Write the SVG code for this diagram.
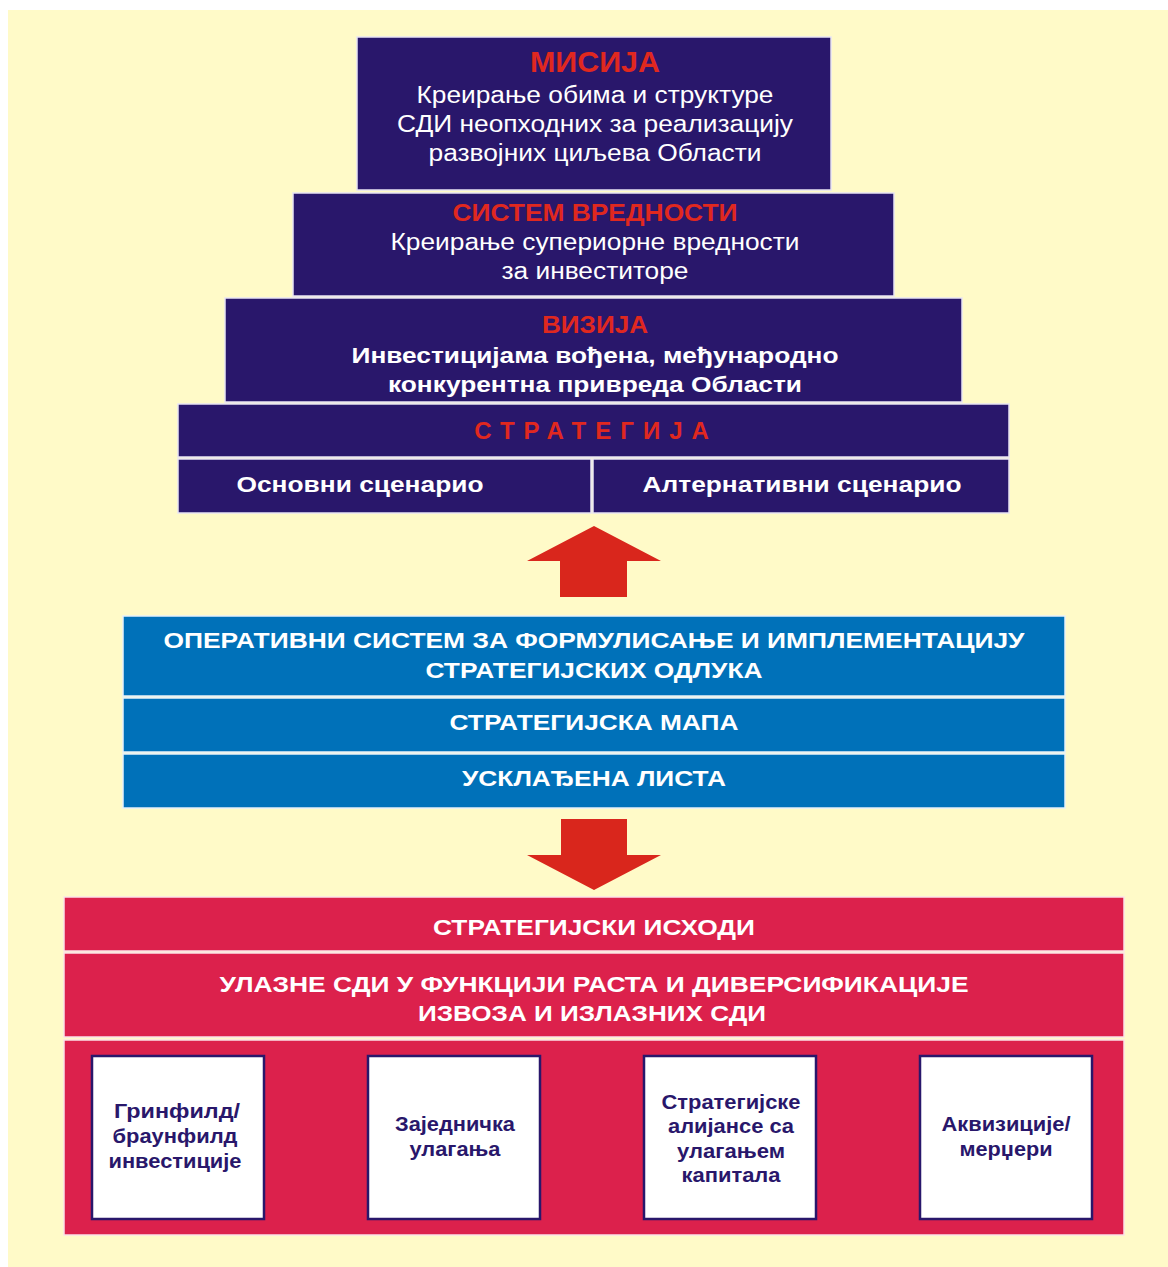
<svg xmlns="http://www.w3.org/2000/svg" width="1168" height="1267" viewBox="0 0 1168 1267">
  <style>
    .navy { fill: #29176b; stroke: #e8e4f4; stroke-width: 1.5; }
    .blue { fill: #0071b9; stroke: #e6f1fa; stroke-width: 1.5; }
    .crim { fill: #dc214c; stroke: #fbe2e8; stroke-width: 1.5; }
    .card { fill: #ffffff; stroke: #29176b; stroke-width: 2.5; }
    .arrow { fill: #d9261c; }
    text { font-family: "Liberation Sans", Arial, sans-serif; text-anchor: middle; }
    .head { fill: #e0281f; font-weight: bold; }
    .body { fill: #ffffff; font-size: 23px; }
    .bold { fill: #ffffff; font-size: 22.5px; font-weight: bold; }
    .cardtxt { fill: #29176b; font-size: 19.5px; font-weight: bold; }
  </style>

  <!-- page -->
  <rect x="0" y="0" width="1168" height="1267" fill="#ffffff"/>
  <rect x="8" y="10" width="1160" height="1257" fill="#fffac8"/>

  <!-- pyramid -->
  <g id="misija">
    <rect class="navy" x="357" y="37" width="474" height="153"/>
    <text class="head" x="595" y="72" font-size="30" textLength="130" lengthAdjust="spacingAndGlyphs">МИСИЈА</text>
    <text class="body" x="595" y="103" textLength="357" lengthAdjust="spacingAndGlyphs">Креирање обима и структуре</text>
    <text class="body" x="595" y="132" textLength="396" lengthAdjust="spacingAndGlyphs">СДИ неопходних за реализацију</text>
    <text class="body" x="595" y="161" textLength="333" lengthAdjust="spacingAndGlyphs">развојних циљева Области</text>
  </g>

  <g id="sistem-vrednosti">
    <rect class="navy" x="293" y="193" width="601" height="103"/>
    <text class="head" x="595" y="221" font-size="24" textLength="285" lengthAdjust="spacingAndGlyphs">СИСТЕМ ВРЕДНОСТИ</text>
    <text class="body" x="595" y="250" textLength="409" lengthAdjust="spacingAndGlyphs">Креирање супериорне вредности</text>
    <text class="body" x="595" y="279" textLength="187" lengthAdjust="spacingAndGlyphs">за инвеститоре</text>
  </g>

  <g id="vizija">
    <rect class="navy" x="225" y="298" width="737" height="104"/>
    <text class="head" x="595" y="333" font-size="24" textLength="106" lengthAdjust="spacingAndGlyphs">ВИЗИЈА</text>
    <text class="bold" x="595" y="363" textLength="487" lengthAdjust="spacingAndGlyphs">Инвестицијама вођена, међународно</text>
    <text class="bold" x="595" y="392" textLength="414" lengthAdjust="spacingAndGlyphs">конкурентна привреда Области</text>
  </g>

  <g id="strategija">
    <rect class="navy" x="178" y="404" width="831" height="53"/>
    <text class="head" x="596" y="439" font-size="24" letter-spacing="9">СТРАТЕГИЈА</text>
  </g>

  <g id="osnovni-scenario">
    <rect class="navy" x="178" y="459" width="413" height="54"/>
    <text class="bold" x="360" y="492" textLength="247" lengthAdjust="spacingAndGlyphs">Основни сценарио</text>
  </g>

  <g id="alternativni-scenario">
    <rect class="navy" x="593" y="459" width="416" height="54"/>
    <text class="bold" x="802" y="492" textLength="319" lengthAdjust="spacingAndGlyphs">Алтернативни сценарио</text>
  </g>

  <!-- block arrows -->
  <g id="connectors">
    <polygon class="arrow" points="594,526 661,561 627,561 627,597 560,597 560,561 527,561"/>
    <polygon class="arrow" points="561,819 627,819 627,855 661,855 594,890 527,855 561,855"/>
  </g>

  <!-- operating system -->
  <g id="operativni-sistem">
    <rect class="blue" x="123" y="616" width="942" height="80"/>
    <text class="bold" x="594" y="648" textLength="861" lengthAdjust="spacingAndGlyphs">ОПЕРАТИВНИ СИСТЕМ ЗА ФОРМУЛИСАЊЕ И ИМПЛЕМЕНТАЦИЈУ</text>
    <text class="bold" x="594" y="678" textLength="337" lengthAdjust="spacingAndGlyphs">СТРАТЕГИЈСКИХ ОДЛУКА</text>
  </g>

  <g id="strategijska-mapa">
    <rect class="blue" x="123" y="698" width="942" height="54"/>
    <text class="bold" x="594" y="730" textLength="289" lengthAdjust="spacingAndGlyphs">СТРАТЕГИЈСКА МАПА</text>
  </g>

  <g id="uskladjena-lista">
    <rect class="blue" x="123" y="754" width="942" height="54"/>
    <text class="bold" x="594" y="786" textLength="264" lengthAdjust="spacingAndGlyphs">УСКЛАЂЕНА ЛИСТА</text>
  </g>

  <!-- outcomes -->
  <g id="strategijski-ishodi">
    <rect class="crim" x="64" y="897" width="1060" height="54"/>
    <text class="bold" x="594" y="935" textLength="322" lengthAdjust="spacingAndGlyphs">СТРАТЕГИЈСКИ ИСХОДИ</text>
  </g>

  <g id="ulazne-sdi">
    <rect class="crim" x="64" y="953" width="1060" height="84"/>
    <text class="bold" x="594" y="992" textLength="749" lengthAdjust="spacingAndGlyphs">УЛАЗНЕ СДИ У ФУНКЦИЈИ РАСТА И ДИВЕРСИФИКАЦИЈЕ</text>
    <text class="bold" x="592" y="1021" textLength="348" lengthAdjust="spacingAndGlyphs">ИЗВОЗА И ИЗЛАЗНИХ СДИ</text>
  </g>

  <g id="oblici-ulaganja">
    <rect class="crim" x="64" y="1040" width="1060" height="195"/>
  </g>

  <g id="grinfild">
    <rect class="card" x="92" y="1056" width="172" height="163"/>
    <text class="cardtxt" x="177" y="1118" textLength="126" lengthAdjust="spacingAndGlyphs">Гринфилд/</text>
    <text class="cardtxt" x="175" y="1143" textLength="125" lengthAdjust="spacingAndGlyphs">браунфилд</text>
    <text class="cardtxt" x="175" y="1168" textLength="133" lengthAdjust="spacingAndGlyphs">инвестиције</text>
  </g>

  <g id="zajednicka-ulaganja">
    <rect class="card" x="368" y="1056" width="172" height="163"/>
    <text class="cardtxt" x="455" y="1131" textLength="120" lengthAdjust="spacingAndGlyphs">Заједничка</text>
    <text class="cardtxt" x="455" y="1156" textLength="91" lengthAdjust="spacingAndGlyphs">улагања</text>
  </g>

  <g id="strateske-alijanse">
    <rect class="card" x="644" y="1056" width="172" height="163"/>
    <text class="cardtxt" x="731" y="1109" textLength="139" lengthAdjust="spacingAndGlyphs">Стратегијске</text>
    <text class="cardtxt" x="731" y="1133" textLength="126" lengthAdjust="spacingAndGlyphs">алијансе са</text>
    <text class="cardtxt" x="731" y="1158" textLength="108" lengthAdjust="spacingAndGlyphs">улагањем</text>
    <text class="cardtxt" x="731" y="1182" textLength="99" lengthAdjust="spacingAndGlyphs">капитала</text>
  </g>

  <g id="akvizicije">
    <rect class="card" x="920" y="1056" width="172" height="163"/>
    <text class="cardtxt" x="1006" y="1131" textLength="129" lengthAdjust="spacingAndGlyphs">Аквизиције/</text>
    <text class="cardtxt" x="1006" y="1156" textLength="93" lengthAdjust="spacingAndGlyphs">мерџери</text>
  </g>
</svg>
